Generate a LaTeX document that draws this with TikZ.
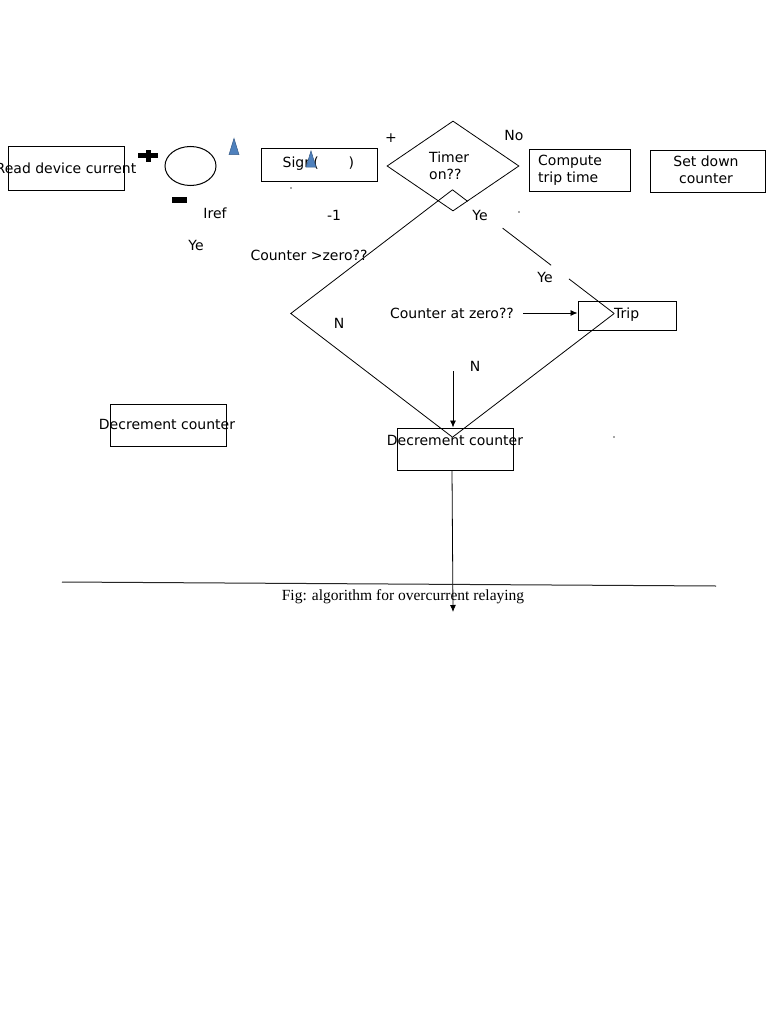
\documentclass[tikz,border=0pt]{standalone}
\usepackage{fontspec}
\setmainfont{DejaVu Sans}
\newfontfamily\capfont{Liberation Serif}
\usetikzlibrary{shapes.geometric,arrows.meta,calc}
\definecolor{triblue}{HTML}{4F81BD}
\definecolor{triedge}{HTML}{385D8A}
\tikzset{
  box/.style={draw=black,line width=1pt,minimum width=116pt,minimum height=42pt,inner sep=0pt},
  txt/.style={inner sep=0pt,font=\fontsize{14}{17}\selectfont},
  lbl/.style={inner sep=1pt,font=\fontsize{14}{17}\selectfont,fill=white},
  edge/.style={draw=black,line width=0.8pt},
  arr/.style={draw=black,line width=0.8pt,-{Latex[length=7pt,width=6pt]}},
  tri/.style={fill=triblue,draw=triedge,line width=0.5pt},
  speck/.style={circle,fill=black!70,inner sep=0pt,minimum size=1.6pt},
}
\begin{document}
\begin{tikzpicture}[x=1pt,y=-1pt]
\useasboundingbox[fill=white] (0,0) rectangle (768,1024);

% top row
\node[box,minimum width=116pt,minimum height=44pt] (read) at (66,169) {};
\node[txt] (readt) at (66,168) {Read device current};
\fill (138,153) rectangle (158,158);
\fill (145.5,150) rectangle (150.5,162);
\node[draw=black,line width=1pt,ellipse,minimum width=51pt,minimum height=39pt,inner sep=0pt] (sum) at (190.5,166) {};
\fill (172,197) rectangle (187,203);
\node[tri,isosceles triangle,shape border rotate=90,isosceles triangle apex angle=34,minimum height=16pt,minimum width=10pt,inner sep=0pt] (tri1) at (234,151) {};
\node[txt] (iref) at (215,213) {Iref};
\node[txt] (ye1) at (196,245) {Ye};

\node[box,minimum width=116pt,minimum height=33pt] (sign) at (319,165.5) {};
\node[txt,anchor=west] (signt) at (282.5,164) {Sign(\hspace{30pt})};
\node[tri,isosceles triangle,shape border rotate=90,isosceles triangle apex angle=34,minimum height=16pt,minimum width=10pt,inner sep=0pt] (tri2) at (311,163.5) {};
\node[speck] (d1) at (291,188) {};
\node[txt] (m1) at (334,215) {-1};

\node[txt] (plus) at (391,138) {+};
\node[draw=black,line width=0.8pt,diamond,minimum width=132pt,minimum height=90pt,inner sep=0pt] (timer) at (453,166) {};
\node[txt,align=left,anchor=west] (timert) at (429,165.5) {Timer\\on??};
\node[txt] (no) at (514,135) {No};

\node[box,minimum width=101pt,minimum height=42pt] (comp) at (579.5,171) {};
\node[txt,align=left,anchor=west] (compt) at (538,170.5) {Compute\\trip time};
\node[box,minimum width=115pt,minimum height=42pt] (setd) at (707.5,172) {};
\node[txt,align=center] (setdt) at (706,170) {Set down\\counter};
\node[speck] (d2) at (519,212) {};

% big diamond
\node[diamond,draw=none,minimum width=323pt,minimum height=247pt,inner sep=0pt] (cz) at (452.5,313.5) {};
\draw[edge] (cz.north) -- (cz.west) -- (cz.south) -- (cz.east);
\draw[edge] (cz.north) -- ($(cz.north)!0.093!(cz.east)$);
\draw[edge] ($(cz.north)!0.31!(cz.east)$) -- ($(cz.north)!0.61!(cz.east)$);
\draw[edge] ($(cz.north)!0.72!(cz.east)$) -- (cz.east);
\node[txt] (ye2) at (480,215) {Ye};
\node[txt] (czt) at (309,255) {Counter >zero??};
\node[txt] (ye3) at (545,277) {Ye};
\node[txt] (cza) at (452,313) {Counter at zero??};
\node[box,minimum width=98pt,minimum height=29pt] (trip) at (627,315.5) {};
\node[txt,anchor=west] (tript) at (614,315) {Trip};
\draw[arr] ($(cza.east)+(9,0)$) -- (trip.west |- cza.east);
\node[txt] (n1) at (339,323) {N};
\node[txt] (n2) at (475,366) {N};
\node[speck] (d3) at (614,437) {};

% decrement boxes
\node[box,minimum width=116pt,minimum height=42pt] (dec1) at (168,425) {};
\node[txt] (dec1t) at (167,424) {Decrement counter};
\node[box,minimum width=116pt,minimum height=42pt] (dec2) at (455,449) {};
\node[txt] (dec2t) at (455,440) {Decrement counter};
\coordinate (nstart) at (453,371);
\draw[arr] (nstart) -- (dec2.north -| nstart);
\coordinate (bottomend) at (453,612);
\draw[arr] (dec2.south -| 452,0) -- (bottomend);

% caption
\coordinate (capl) at (62,582);
\coordinate (capr) at (716,586);
\draw[line width=1pt,draw=black!85] (capl) -- (capr);
\node[inner sep=0pt,font=\capfont\fontsize{15.5}{18}\selectfont] (cap) at (403,596.5) {Fig: algorithm for overcurrent relaying};
\end{tikzpicture}
\end{document}
